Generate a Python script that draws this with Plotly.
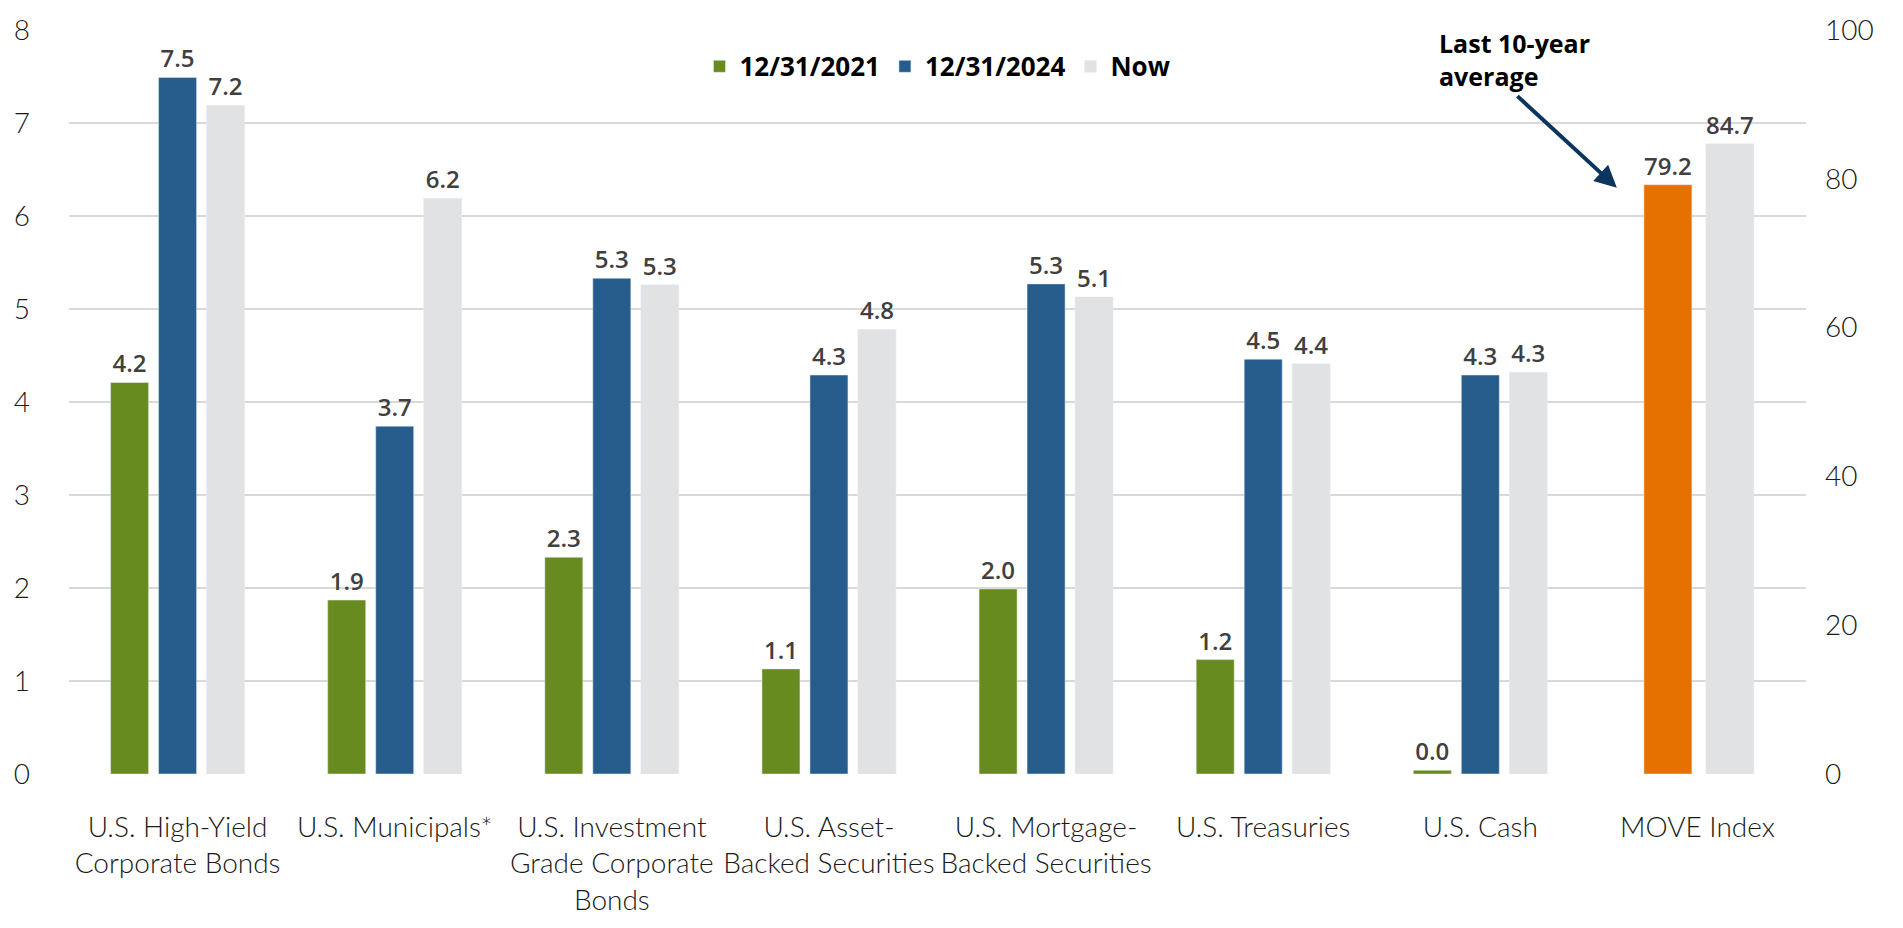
import plotly.graph_objects as go

categories = [
    "U.S. High-Yield<br>Corporate Bonds",
    "U.S. Municipals*",
    "U.S. Investment<br>Grade Corporate<br>Bonds",
    "U.S. Asset-<br>Backed Securities",
    "U.S. Mortgage-<br>Backed Securities",
    "U.S. Treasuries",
    "U.S. Cash",
    "MOVE Index",
]

yield_2021 = [4.21, 1.87, 2.33, 1.13, 1.99, 1.23, 0.04, None]
yield_2024 = [7.49, 3.74, 5.33, 4.29, 5.27, 4.46, 4.29, None]
yield_now = [7.19, 6.19, 5.26, 4.78, 5.13, 4.41, 4.32, None]

move_category = ["MOVE Index"]
move_avg = [79.2]
move_now = [84.7]

series_names = ["12/31/2021", "12/31/2024", "Now"]
left_ticks = [0, 1, 2, 3, 4, 5, 6, 7, 8]
right_ticks = [0, 20, 40, 60, 80, 100]

GREEN = "#678B1F"
BLUE = "#275D8C"
GRAY = "#E1E2E4"
ORANGE = "#E57200"
LABEL = "#404040"

label_font = dict(family="Open Sans", size=24, color=LABEL, weight=600)

fig = go.Figure()

W = 0.175
SLOT = 0.221
for vals, name, color, k in [
    (yield_2021, series_names[0], GREEN, -1),
    (yield_2024, series_names[1], BLUE, 0),
    (yield_now, series_names[2], GRAY, 1),
]:
    fig.add_trace(go.Bar(
        x=categories, y=vals, name=name, marker_color=color,
        width=W, offset=k * SLOT - W / 2,
        texttemplate="%{y:.1f}", textposition="outside",
        textfont=label_font, cliponaxis=False, yaxis="y",
    ))

WM = 0.221
fig.add_trace(go.Bar(
    x=move_category, y=move_avg, name="MOVE 10-year average",
    marker_color=ORANGE, width=WM, offset=-0.2465,
    texttemplate="%{y:.1f}", textposition="outside",
    textfont=label_font, cliponaxis=False, yaxis="y2", showlegend=False,
))
fig.add_trace(go.Bar(
    x=move_category, y=move_now, name="MOVE Now",
    marker_color=GRAY, width=WM, offset=0.039,
    texttemplate="%{y:.1f}", textposition="outside",
    textfont=label_font, cliponaxis=False, yaxis="y2", showlegend=False,
))

tick_font = dict(family="Lato", size=28, color="#1a1a1a", weight=300)

fig.update_layout(
    width=1903, height=928,
    margin=dict(l=69, r=97, t=24, b=152),
    plot_bgcolor="white", paper_bgcolor="white",
    barmode="overlay",
    xaxis=dict(
        type="category", categoryorder="array", categoryarray=categories,
        showgrid=False, zeroline=False, showline=False, ticks="",
        tickfont=dict(family="Lato", size=28, color="#1a1a1a", weight=300),
        ticklabelstandoff=34,
    ),
    yaxis=dict(
        range=[0, 8], tickvals=left_ticks, showgrid=True,
        gridcolor="#D9D9D9", gridwidth=2, zeroline=False, showline=False,
        ticks="", tickfont=tick_font, ticklabelstandoff=38,
    ),
    yaxis2=dict(
        range=[0, 100], tickvals=right_ticks, overlaying="y", side="right",
        showgrid=False, zeroline=False, showline=False, ticks="",
        tickfont=tick_font, ticklabelstandoff=18,
    ),
    legend=dict(
        orientation="h", x=0.5, xanchor="center", y=0.951, yanchor="middle",
        font=dict(family="Open Sans", size=26, color="black", weight=700),
        bgcolor="rgba(0,0,0,0)", traceorder="normal",
    ),
    showlegend=True,
)

# Arrow
fig.add_annotation(
    x=6.629, y=78.8, xref="x", yref="y2",
    ax=-101, ay=-93, axref="pixel", ayref="pixel",
    text="", showarrow=True, arrowhead=2, arrowsize=1.1, arrowwidth=4,
    arrowcolor="#0C355E",
)
# Text
fig.add_annotation(
    x=5.80, y=1.008, xref="x", yref="paper",
    xanchor="left", yanchor="top", align="left",
    text="Last 10-year<br>average", showarrow=False,
    font=dict(family="Open Sans", size=25, color="black", weight=700),
)

fig.write_html(
    "out.html",
    config={"displayModeBar": False},
    post_script="document.body.style.margin='0';document.body.style.overflow='hidden';",
)
